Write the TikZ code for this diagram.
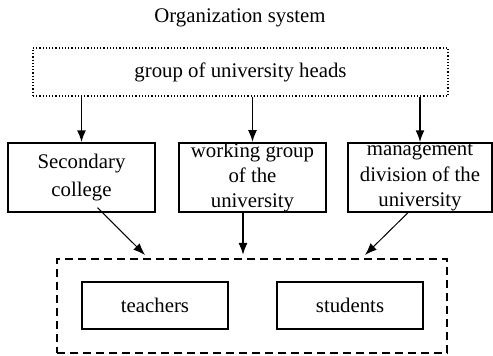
\documentclass[tikz,border=0pt]{standalone}
\usepackage{fontspec}
\setmainfont{Liberation Serif}
\usepackage{tikz}
\usetikzlibrary{arrows.meta, positioning}

\tikzset{
    unitbox/.style={draw, line width=0.7pt, inner sep=0pt, align=center,
        minimum width=73.5pt, minimum height=34.5pt},
    memberbox/.style={draw, line width=0.7pt, inner sep=0pt,
        minimum width=73pt, minimum height=23.5pt},
    linkarrow/.style={-{Latex[length=6pt,width=4.5pt]}, line width=0.9pt}
}

\begin{document}
\begin{tikzpicture}[x=0.5pt, y=-0.5pt, font=\fontsize{10.4}{12.6}\selectfont]
    \useasboundingbox (0,0) rectangle (493,356);

    % Title
    \node (title) at (240,18) {Organization system};

    % Heads
    \node[draw, densely dotted, line width=0.6pt, minimum width=207.5pt, minimum height=24pt]
        (heads) at (240.5,72) {group of university heads};

    % Middle level
    \node[unitbox] (college) at (81.5,177.5) {Secondary\\[1.5pt]college};
    \node[unitbox] (working) at (252.5,177.5) {working group\\of the\\university};
    \node[unitbox, minimum width=72pt] (division) at (420,177.5) {management\\division of the\\university};

    % Members
    \node[draw, dashed, dash pattern=on 4pt off 2.5pt, line width=0.7pt,
        minimum width=195pt, minimum height=47pt] (members) at (252,306) {};
    \node[memberbox] (teachers) at (155,305.5) {teachers};
    \node[memberbox] (students) at (350,305.5) {students};

    % Arrows down from heads
    \draw[linkarrow] (heads.south -| college) -- (college.north);
    \draw[linkarrow] (heads.south -| working) -- (working.north);
    \draw[linkarrow] (heads.south -| division) -- (division.north);

    % Arrows down to members
    \coordinate (tipa) at (145,255);
    \coordinate (tipb) at (243,255);
    \coordinate (tipc) at (365,255);
    \draw[linkarrow, line width=0.5pt] ([xshift=8pt,yshift=2.5pt]college.south) -- (tipa);
    \draw[linkarrow] (working.south -| tipb) -- (tipb);
    \draw[linkarrow, line width=0.5pt] ([xshift=-6pt]division.south) -- (tipc);
\end{tikzpicture}
\end{document}
